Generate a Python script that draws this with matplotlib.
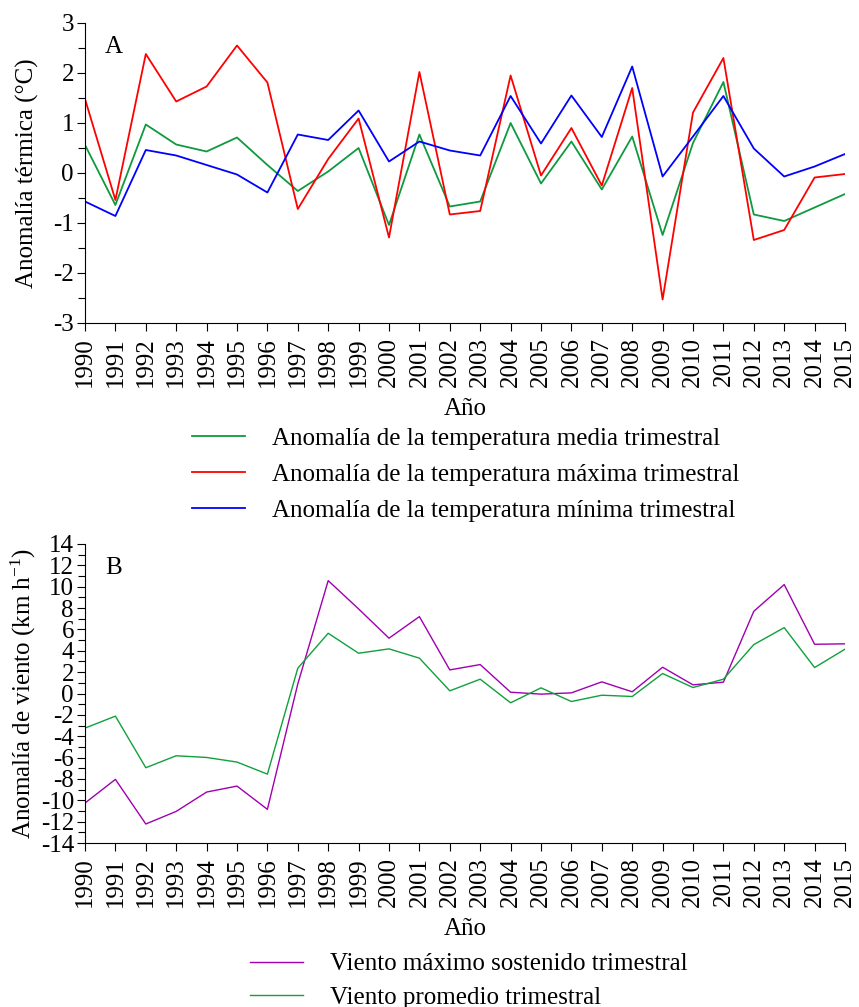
import numpy as np
import matplotlib
matplotlib.use('Agg')
import matplotlib.pyplot as plt
from matplotlib.ticker import MultipleLocator

plt.rcParams['font.family'] = ['Liberation Serif', 'DejaVu Serif']
plt.rcParams['axes.unicode_minus'] = False
plt.rcParams['mathtext.default'] = 'regular'

years = list(range(1990, 2016))

# anomalias termicas trimestrales (°C)
t_media = [0.56, -0.64, 0.97, 0.57, 0.43, 0.71, 0.16, -0.36, 0.03, 0.50,
           -1.04, 0.77, -0.67, -0.57, 1.00, -0.21, 0.63, -0.33, 0.73, -1.24,
           0.60, 1.82, -0.83, -0.96, -0.69, -0.42]
t_maxima = [1.48, -0.54, 2.38, 1.43, 1.73, 2.55, 1.81, -0.72, 0.28, 1.09,
            -1.29, 2.02, -0.83, -0.76, 1.95, -0.05, 0.90, -0.25, 1.70, -2.53,
            1.21, 2.30, -1.34, -1.14, -0.09, -0.02]
t_minima = [-0.57, -0.86, 0.46, 0.35, 0.16, -0.03, -0.39, 0.77, 0.66, 1.25,
            0.23, 0.63, 0.45, 0.35, 1.54, 0.59, 1.55, 0.72, 2.13, -0.07,
            0.73, 1.54, 0.49, -0.07, 0.13, 0.38]

# anomalias de viento (km/h)
v_maximo = [-10.26, -8.04, -12.22, -11.04, -9.23, -8.67, -10.85, 0.9, 10.57, 7.92,
            5.18, 7.20, 2.21, 2.71, 0.12, -0.06, 0.06, 1.09, 0.16, 2.46,
            0.81, 1.06, 7.70, 10.20, 4.61, 4.65]
v_promedio = [-3.24, -2.12, -6.95, -5.83, -5.99, -6.42, -7.55, 2.37, 5.64, 3.77,
              4.18, 3.31, 0.25, 1.34, -0.87, 0.53, -0.75, -0.16, -0.28, 1.87,
              0.56, 1.34, 4.58, 6.17, 2.43, 4.15]

W, H = 859, 1007
fig = plt.figure(figsize=(W / 100, H / 100), dpi=100)

def box(l, t, r, b):
    return [l / W, 1 - b / H, (r - l) / W, (b - t) / H]

ax1 = fig.add_axes(box(85, 23, 845, 323))
ax2 = fig.add_axes(box(85, 544, 845, 843))

fs = 18

def estilo(ax):
    for s in ['top', 'right']:
        ax.spines[s].set_visible(False)
    ax.set_xlim(1990, 2015)
    ax.set_xticks(years)
    ax.set_xticklabels([str(y) for y in years], rotation=90)
    ax.tick_params(which='major', direction='out', length=6, width=0.8,
                   labelsize=fs, pad=4)
    ax.tick_params(which='minor', direction='out', length=5, width=0.8)
    ax.tick_params(axis='y', pad=2)
    ax.set_xlabel('Año', fontsize=fs, labelpad=8)

# A: temperatura
ax1.plot(years, t_media, color='#0e9a3e', lw=1.3, label='Anomalía de la temperatura media trimestral')
ax1.plot(years, t_maxima, color='#ff0000', lw=1.3, label='Anomalía de la temperatura máxima trimestral')
ax1.plot(years, t_minima, color='#0000ff', lw=1.3, label='Anomalía de la temperatura mínima trimestral')
estilo(ax1)
ax1.set_ylim(-3, 3)
ax1.yaxis.set_major_locator(MultipleLocator(1))
ax1.yaxis.set_minor_locator(MultipleLocator(0.5))
ax1.set_ylabel('Anomalía térmica (°C)', fontsize=fs, labelpad=10)
ax1.text(0.026, 0.92, 'A', transform=ax1.transAxes, fontsize=fs, va='center')
ax1.legend(loc='upper left', bbox_to_anchor=(192 / W, 1 - 427 / H),
           bbox_transform=fig.transFigure, frameon=False, fontsize=fs,
           handlelength=2.1, handletextpad=1.1, labelspacing=0.55,
           borderpad=0, borderaxespad=0)

# B: viento
ax2.plot(years, v_maximo, color='#a000b0', lw=1.0, label='Viento máximo sostenido trimestral')
ax2.plot(years, v_promedio, color='#10a03c', lw=1.0, label='Viento promedio trimestral')
estilo(ax2)
ax2.set_ylim(-14, 14)
ax2.yaxis.set_major_locator(MultipleLocator(2))
ax2.yaxis.set_minor_locator(MultipleLocator(1))
ax2.set_ylabel('Anomalía de viento (km h$^{-1}$)', fontsize=fs, labelpad=2)
ax2.text(0.026, 0.92, 'B', transform=ax2.transAxes, fontsize=fs, va='center')
ax2.legend(loc='upper left', bbox_to_anchor=(250 / W, 1 - 953 / H),
           bbox_transform=fig.transFigure, frameon=False, fontsize=fs,
           handlelength=2.1, handletextpad=1.1, labelspacing=0.43,
           borderpad=0, borderaxespad=0)

fig.savefig('out.png', dpi=100)
